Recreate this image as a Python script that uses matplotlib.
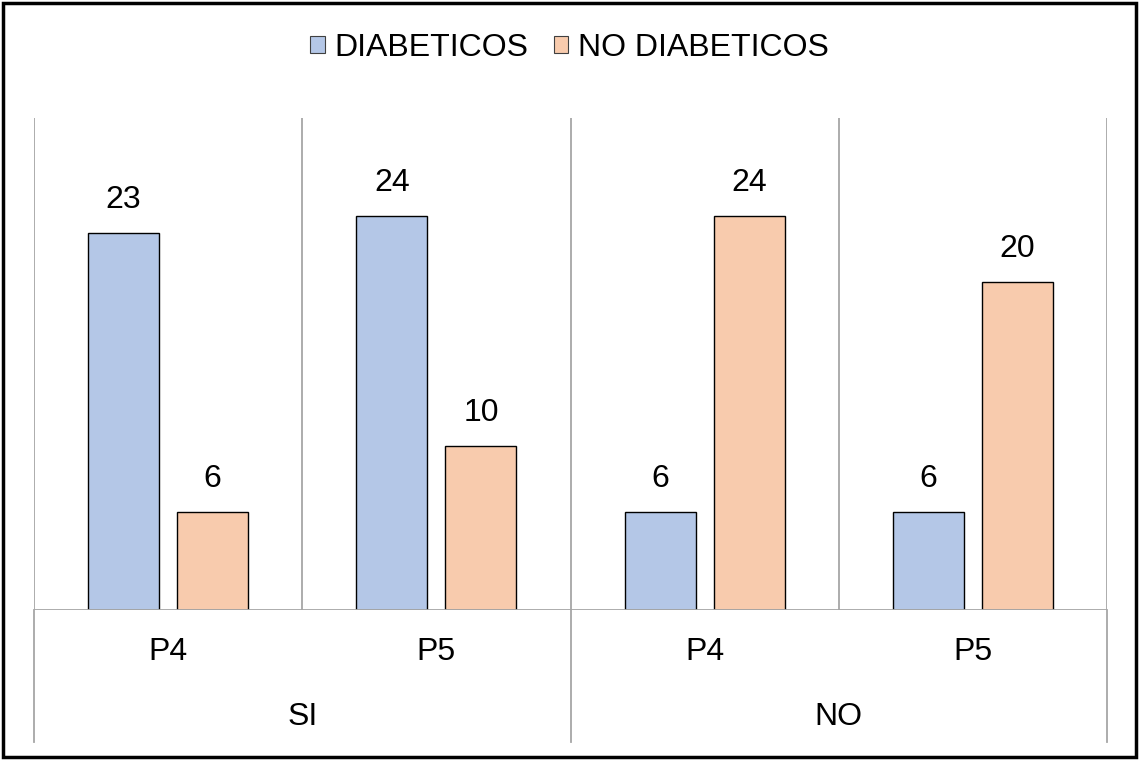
import matplotlib
matplotlib.use("Agg")
import matplotlib.pyplot as plt
from matplotlib.patches import Rectangle, Patch
from matplotlib.lines import Line2D
import numpy as np

plt.rcParams['font.family'] = ['Liberation Sans', 'DejaVu Sans']

sub_labels = ["P4", "P5", "P4", "P5"]
group_labels = ["SI", "NO"]
series_names = ["DIABETICOS", "NO DIABETICOS"]
diabeticos = [23, 24, 6, 6]
no_diabeticos = [6, 10, 24, 20]
colors = ["#b4c7e7", "#f8cbad"]

W, H = 1139, 760
fig = plt.figure(figsize=(W / 100, H / 100), dpi=100)
ax = fig.add_axes([34 / W, (H - 610) / H, (1107 - 34) / W, (610 - 118) / H])

x = np.arange(len(sub_labels))
bw = 0.265
off = 0.166
fs = 23
for vals, sign, c in [(diabeticos, -1, colors[0]), (no_diabeticos, 1, colors[1])]:
    bars = ax.bar(x + sign * off, vals, width=bw, color=c, edgecolor="black", linewidth=1.0, zorder=3)
    for b, v in zip(bars, vals):
        ax.annotate(str(v), (b.get_x() + b.get_width() / 2, v), xytext=(0, 13),
                    textcoords="offset points", ha="center", va="bottom", fontsize=fs)

ax.set_xlim(-0.5, len(sub_labels) - 0.5)
ax.set_ylim(0, 30)
for s in ax.spines.values():
    s.set_visible(False)
ax.set_xticks([])
ax.set_yticks([])

gray = "#a6a6a6"
ax.axhline(0, color=gray, lw=1.3, zorder=4)
for xv in np.arange(-0.5, len(sub_labels), 1.0):
    ax.plot([xv, xv], [0, 30], color=gray, lw=1.3, zorder=1)
trans = ax.get_xaxis_transform()
ylow = (610 - 742) / 492
for xv in [-0.5, 1.5, 3.5]:
    ax.add_line(Line2D([xv, xv], [0, ylow], transform=trans, color=gray, lw=1.3, clip_on=False))

y_sub = (610 - 652) / 492
y_grp = (610 - 717) / 492
for xi, lab in zip(x, sub_labels):
    ax.text(xi, y_sub, lab, transform=trans, ha="center", va="center", fontsize=fs)
for gi, lab in enumerate(group_labels):
    ax.text(2 * gi + 0.5, y_grp, lab, transform=trans, ha="center", va="center", fontsize=fs)

handles = [Patch(facecolor=colors[0], edgecolor="#404040", linewidth=0.8),
           Patch(facecolor=colors[1], edgecolor="#404040", linewidth=0.8)]
fig.legend(handles, series_names, loc="center", bbox_to_anchor=(0.5, 1 - 48 / H), ncol=2,
           frameon=False, fontsize=fs, handlelength=0.45, handleheight=0.45,
           handletextpad=0.3, columnspacing=0.8)

fig.patches.append(Rectangle((3 / W, 3 / H), (W - 6) / W, (H - 6) / H, transform=fig.transFigure,
                             fill=False, edgecolor="black", linewidth=2.5))

fig.savefig("out.png", dpi=100)
